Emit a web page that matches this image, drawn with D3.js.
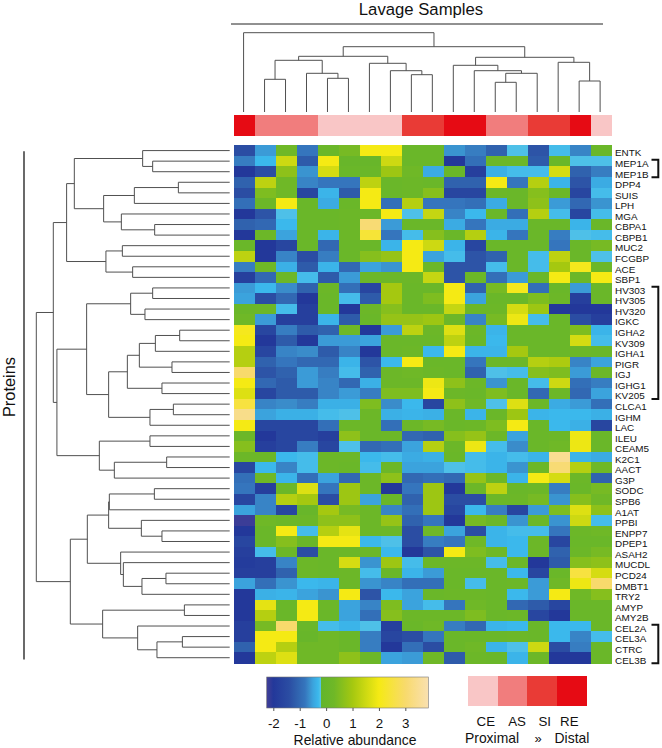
<!DOCTYPE html>
<html><head><meta charset="utf-8">
<script src="https://cdn.jsdelivr.net/npm/d3@7/dist/d3.min.js"></script>
<style>html,body{margin:0;padding:0;background:#fff}svg{display:block}text{font-family:"Liberation Sans",Arial,sans-serif;fill:#111}</style>
</head><body><svg id="c" width="662" height="748"></svg>
<script>
const proteins = ["ENTK","MEP1A","MEP1B","DPP4","SUIS","LPH","MGA","CBPA1","CBPB1","MUC2","FCGBP","ACE","SBP1","HV303","HV305","HV320","IGKC","IGHA2","KV309","IGHA1","PIGR","IGJ","IGHG1","KV205","CLCA1","IGHM","LAC","ILEU","CEAM5","K2C1","AACT","G3P","SODC","SPB6","A1AT","PPBI","ENPP7","DPEP1","ASAH2","MUCDL","PCD24","DMBT1","TRY2","AMYP","AMY2B","CEL2A","CEL3A","CTRC","CEL3B"];
const sampleSites = ["RE","AS","AS","AS","CE","CE","CE","CE","SI","SI","RE","RE","AS","AS","SI","SI","RE","CE"];
const siteOrder = ["CE","AS","SI","RE"];
const siteColors = ["#f9c6c6","#f17d7d","#e93b36","#e60b14"];
const abundance = [
[-1.8,-0.7,0.3,-1.2,0.1,0.4,2,2,0.1,0.1,-0.8,-1.1,-1.5,-0.25,-1.7,-0.3,-1.0,0.1],
[-1.1,-0.35,1.5,-1.6,2,0.05,0.05,1.5,0.1,0.1,-2.1,-1.3,0.2,0.2,-1.6,0.1,-0.25,-0.25],
[-2.1,-1.8,0.7,-0.8,1.6,0.1,0.1,0.9,0.3,-0.5,0.1,-2.0,-0.45,-0.3,-0.3,1.6,-1.5,-1.1],
[-1.5,1.3,0.3,-1.0,-1.2,-1.2,1.3,0.1,0.2,0.1,-1.5,-1.5,2,-1.2,1.2,-0.4,-1.7,-0.5],
[-1.8,0.5,0.3,-1.9,-0.4,-1.6,2,0.1,0.2,0.6,-1.9,-1.9,0.2,0.1,0.6,0.2,-1.9,-0.3],
[-1.3,0.2,2,0.1,-0.5,0.1,2,-1.3,1.2,-1.2,-1.2,-1.3,-0.5,0.1,0.7,-0.7,-1.4,-0.8],
[-2.1,-1.7,-0.25,0.1,0.1,0.2,0.2,2,-0.25,1.4,-1.0,-0.35,0.1,-1.3,1.2,-0.3,-1.9,-0.3],
[-1.5,-1.4,-0.35,0.1,0.1,0.2,3.1,-0.7,0.1,0.1,-0.5,-1.2,-0.5,-0.5,0.1,0.1,-0.4,0.1],
[-2.1,0.2,-0.6,0.1,-0.4,0.2,2.4,-1.2,-0.3,0.6,0.1,1.2,-0.4,-1.2,0.1,-1.1,-0.25,-0.3],
[0.1,-2.1,-1.9,0.1,-1.4,0.1,0.1,-0.4,2,1.5,-0.4,-1.9,0.1,0.1,0.1,-1.2,0.1,0.4],
[1.3,-2.1,-1.0,-1.8,-1.1,0.1,0.6,0.8,2,-0.6,-0.3,-1.7,-1.5,0.1,-0.3,1.3,0.1,-0.25],
[-1.1,0.3,-0.45,-1.6,-0.4,-1.4,-0.6,-0.8,2,0.2,-1.7,-1.7,-0.3,0.1,-0.3,1.0,2.1,0.2],
[-2.0,-1.4,0.2,-0.3,-1.6,-0.7,0.2,0.2,0.2,1.4,-1.7,0.2,-1.3,-0.7,0.1,2,0.2,2],
[-0.7,-0.35,-0.9,-1.5,0.2,-1.3,-1.9,1.0,0.1,0.1,2,-1.5,0.4,2.1,-1.3,0.1,-0.7,0.1],
[-0.6,-1.8,-1.4,-2.1,0.1,-0.3,-1.6,1.0,0.1,0.5,2,-0.6,0.1,0.1,0.5,0.2,-2.0,0.1],
[0.1,0.2,-0.3,-2.0,0.1,-2.1,0.2,0.6,0.1,0.1,1.4,0.2,0.2,1.6,0.9,-2.1,-2.1,-2.1],
[0.3,-0.7,-2.0,-2.0,-0.4,-1.6,0.1,0.8,0.8,0.9,0.2,-1.0,0.4,1.9,-0.3,0.1,-1.8,-2.0],
[2.1,-1.9,-1.1,-1.6,-1.5,0.3,-2.1,-0.7,1.3,0.2,1.7,0.2,-0.4,0.1,0.1,0.1,0.5,-0.4],
[2,-2.1,-1.6,-2.1,-0.7,-0.7,-0.6,0.1,0.1,0.1,1.3,0.1,-0.35,0.1,0.1,0.1,1.6,-0.3],
[1.2,-1.9,-1.0,-0.9,-1.6,-1.0,-2.1,0.1,0.2,-0.35,2,-0.4,-0.4,1.0,0.1,0.1,0.2,0.1],
[1.2,-1.5,-1.2,-1.4,-1.4,-0.4,-1.7,-0.35,2,0.1,0.1,-1.2,0.2,0.2,1.2,1.1,-1.0,-0.6],
[3,-1.7,-1.5,-0.7,-1.1,-0.3,-1.5,0.2,0.3,0.2,0.1,-1.5,-0.25,-0.3,0.6,0.5,-0.7,0.2],
[2,-1.4,-1.6,-0.7,-1.0,-1.4,-0.45,0.2,0.2,1.9,0.7,0.2,-0.8,0.1,-0.3,1.5,-1.3,-1.1],
[1.7,-1.9,-1.6,-1.6,-1.0,-0.7,-1.1,0.5,0.5,2,0.2,0.1,0.5,0.1,-1.4,0.2,-1.4,-0.6],
[2.5,-1.0,-0.9,-1.1,-0.45,-0.45,0.5,-0.9,-0.35,-1.9,0.7,0.3,-0.25,1.7,0.2,-0.5,-0.7,-1.3],
[3.4,-0.6,-0.45,-0.45,-0.3,-0.25,0.2,-0.45,-0.4,-0.45,0.1,-0.4,0.1,0.9,-0.4,-0.35,-0.35,-0.45],
[2,-1.9,-1.9,-1.9,-1.3,0.2,0.1,-1.3,0.2,0.4,0.1,0.2,0.5,2,0.1,-0.35,-0.45,-1.9],
[0.2,-2.1,-1.9,-1.9,-2.0,0.7,0.1,0.2,-1.4,-1.5,0.6,0.8,0.2,-0.6,0.1,0.2,1.9,0.1],
[0.6,-2.0,-1.9,-1.1,-1.9,-0.25,-1.4,-1.3,-0.6,1.2,0.2,1.9,-0.3,-0.9,0.1,0.3,1.9,0.1],
[0.2,0.2,-0.35,-0.3,0.2,0.2,-0.35,-0.3,-0.5,-0.45,0.1,-0.3,-0.4,-0.3,-0.4,3.5,-0.4,-0.5],
[-1.9,-0.35,-1.0,-0.3,0.2,0.1,-0.3,0.2,-0.6,-0.6,-0.25,-0.3,-0.4,-0.8,0.2,3.1,1.2,0.3],
[-1.3,0.3,-0.4,-1.3,-0.6,-1.4,0.2,0.7,-1.4,-1.3,-1.4,0.8,0.2,-0.4,2,1.6,0.2,-1.5],
[-1.2,-2.0,0.2,1.7,-1.2,0.9,0.2,-2.1,-1.2,0.9,-2.1,0.2,1.3,0.1,0.2,-1.1,0.1,0.4],
[-1.9,-1.0,1.2,1.0,-1.8,0.9,-0.6,0.1,-1.5,0.9,-1.8,-1.8,0.2,0.2,0.4,-0.8,0.6,0.3],
[-0.6,-1.0,-1.9,0.05,1.0,0.4,0.2,-1.0,-1.3,0.9,-1.9,-0.35,-1.1,-1.9,-0.7,0.5,1.7,0.7],
[-2.25,0.3,0.2,0.2,0.7,0.7,0.2,0.8,-1.5,-1.2,-2.1,0.4,0.2,-0.8,0.2,-0.8,1.5,-0.3],
[-2.1,0.1,2,-0.3,1.2,1.8,0.2,0.2,-1.8,0.3,-0.6,-1.8,-0.4,-0.3,-0.3,-1.2,0.2,0.3],
[-1.9,0.1,0.6,0.1,2,2,-0.35,-0.25,-1.8,-1.1,-1.2,0.3,-0.4,-0.35,0.2,-1.9,0.1,0.1],
[-2.0,-0.3,0.2,-1.8,0.1,0.2,0.2,-0.35,-2.1,-1.7,2,0.5,0.3,-0.35,0.2,-1.5,0.2,0.4],
[-2.05,-2.0,-1.0,0.2,0.1,1.6,-0.8,0.9,-0.3,0.2,0.2,0.2,-0.3,0.2,-2.1,-1.6,0.6,0.7],
[-2.0,-2.0,-1.5,0.2,0.1,0.2,-0.3,0.1,-0.4,-0.7,0.1,0.1,0.1,-0.35,-1.9,0.1,2.5,1.6],
[-0.6,-1.3,-0.8,-0.35,-0.4,0.2,-0.8,-1.0,-1.3,-1.3,0.1,-0.3,0.1,0.2,-0.7,0.3,1.9,3],
[-2.1,-0.45,-0.4,-0.6,-0.8,2,-1.7,-0.35,-0.6,0.1,0.2,0.2,0.1,-0.35,-0.7,2,0.3,0.6],
[-2.1,1.8,0.1,2,0.2,-0.6,-1.0,0.5,-0.6,-0.3,-1.2,0.3,0.1,-1.4,-1.6,-1.9,0.1,0.1],
[-2.1,1.2,0.1,2,0.1,-0.6,-1.3,0.6,0.2,0.2,0.2,0.5,0.1,0.2,-1.9,-2.1,0.1,0.1],
[-2.0,0.4,3,0.1,-0.3,-0.4,-0.25,-2.0,0.1,0.3,-1.1,-1.4,-0.4,-0.35,0.1,-0.35,-0.35,0.1],
[-2.0,2,2,0.05,0.3,0.1,-1.1,-1.9,-1.8,-1.2,0.1,0.1,0.1,0.2,0.1,-0.35,-1.0,-0.3],
[-1.5,2,1.2,0.3,0.3,0.1,-1.1,-2.1,-1.3,-1.8,0.1,0.3,-0.4,-0.25,1.5,-1.8,-1.1,0.1],
[-2.1,1.3,1.7,0.3,0.3,0.7,0.2,-0.6,-0.7,0.3,-1.6,0.2,0.1,-0.4,0.2,-2.1,-2.1,0.1]
];
// merge trees: [merge distance, child, child]; a number is a row or column index
const rowTree = [193.3,
 [176.3,
  [163,
   [155.3,[87,0,[77,1,2]],[126,[95.3,[51.3,3,4],5],[108.3,6,[75,7,8]]]],
   [123.7,[107.3,9,10],[97,11,12]]],
  [172.7,
   [143,
    [99,[77,13,14],[84.7,15,16]],
    [121,[102.3,[90.3,[74.3,[50,17,18],19],[57.7,20,21]],[67.7,22,23]],[79.7,[56.3,24,25],26]]],
   [130.3,[79.7,27,28],[115.3,[63,29,30],31]]]],
 [159.3,
  [142.3,
   [121,[120.3,[75.3,32,33],34],[88.3,35,[67.7,36,37]]],
   [109,38,[106.3,39,[87.7,[63.7,40,41],42]]]],
  [127,[45.3,43,44],[92,45,[72.7,[47.3,46,47],48]]]]];
const colTree = [79.3,0,
 [65.3,
  [55.7,
   [51.7,[32.7,1,2],[38.7,3,[33.7,4,5]]],
   [48.7,6,[41.3,7,[37.3,8,9]]]],
  [54.7,
   [46.7,10,[41.3,11,[38.7,[29.7,12,13],14]]],
   [49.7,15,[31,16,17]]]]];
const colorStops = [-2.3,-2.1,-1.8,-1.5,-1.2,-0.9,-0.6,-0.35,-0.2,-0.19,0.3,1,2,3,3.9];
const colorValues = ["#433f96","#23389a","#2b4da3","#3062ae","#3575bd","#3a8cca","#3ba3dd","#3bb8ec","#58c4e6","#62b52c","#6fb827","#a5c810","#f5ea14","#f8da6c","#f9e0b0"];
const legendStops = [-2.3,-2.0,-1.4,-1.1,-0.8,-0.65,-0.5,-0.3,-0.2,-0.19,0.3,1,2,3,3.9];
const legendTicks = [-2,-1,0,1,2,3];
const bracketGroups = [["MEP1A","MEP1B"],["HV303","KV205"],["CEL2A","CEL3B"]];

const svg = d3.select("#c");
const x = d3.scaleBand().domain(d3.range(sampleSites.length)).range([234.3,611.8]);
const y = d3.scaleBand().domain(proteins).range([145.3,663]);
const color = d3.scaleLinear().domain(colorStops).range(colorValues).clamp(true);
const siteColor = d3.scaleOrdinal().domain(siteOrder).range(siteColors);

// heat map
svg.append("g").attr("shape-rendering","crispEdges").selectAll("g").data(abundance).join("g")
 .attr("transform",(d,i)=>`translate(0,${y(proteins[i])})`)
 .selectAll("rect").data(d=>d).join("rect")
 .attr("x",(d,i)=>x(i)).attr("width",x.bandwidth()+0.5).attr("height",y.bandwidth()+0.5)
 .attr("fill",d=>color(d));

// sample bar
svg.append("g").attr("shape-rendering","crispEdges").selectAll("rect").data(sampleSites).join("rect")
 .attr("x",(d,i)=>x(i)).attr("y",114.7).attr("width",x.bandwidth()+0.5).attr("height",21.3).attr("fill",d=>siteColor(d));

// row labels
svg.append("g").selectAll("text").data(proteins).join("text")
 .attr("x",615).attr("y",d=>y(d)+y.bandwidth()/2+5.8).attr("font-size",9.9).text(d=>d);

// dendrograms
function drawTree(tree,leafPos,distScale,horizontal){
 const root = d3.hierarchy(tree,d=>Array.isArray(d)?d.slice(1):null);
 const p = d3.path();
 root.eachAfter(n=>{
  if(!n.children){n.pos=leafPos(n.data);n.dist=0;return;}
  n.dist=n.data[0];
  n.pos=d3.mean(n.children,c=>c.pos);
  const [a,b]=n.children, d=distScale(n.dist);
  if(horizontal){
   p.moveTo(distScale(a.dist),a.pos);p.lineTo(d,a.pos);p.lineTo(d,b.pos);p.lineTo(distScale(b.dist),b.pos);
  }else{
   p.moveTo(a.pos,distScale(a.dist));p.lineTo(a.pos,d);p.lineTo(b.pos,d);p.lineTo(b.pos,distScale(b.dist));
  }
 });
 svg.append("path").attr("d",p.toString()).attr("fill","none").attr("stroke","#505050").attr("stroke-width",1);
}
drawTree(rowTree,i=>y(proteins[i])+y.bandwidth()/2,d3.scaleLinear().domain([0,193.3]).range([229.7,36.3]),true);
drawTree(colTree,i=>x(i)+x.bandwidth()/2-1.2,d3.scaleLinear().domain([0,79.3]).range([112,32.7]),false);

// titles and rules
svg.append("text").attr("x",421).attr("y",15).attr("text-anchor","middle").attr("font-size",16.7).text("Lavage Samples");
svg.append("line").attr("x1",231).attr("x2",603).attr("y1",24).attr("y2",24).attr("stroke","#222").attr("stroke-width",1);
svg.append("text").attr("transform","translate(15,387) rotate(-90)").attr("text-anchor","middle").attr("font-size",16.4).text("Proteins");
svg.append("line").attr("x1",24).attr("x2",24).attr("y1",151.3).attr("y2",659.5).attr("stroke","#444").attr("stroke-width",1.6);

// brackets
svg.append("g").selectAll("path").data(bracketGroups).join("path")
 .attr("d",g=>{
   const t=y(g[0])+y.bandwidth()/2-1.3, b=y(g[1])+y.bandwidth()/2+5.5;
   return d3.line()([[651.5,t],[658.3,t],[658.3,b],[651.5,b]]);
 }).attr("fill","none").attr("stroke","#111").attr("stroke-width",2);

// colour legend
const lx = d3.scaleLinear().domain([-2.25,3.87]).range([266.7,428.3]);
const defs = svg.append("defs");
const grad = defs.append("linearGradient").attr("id","cb");
legendStops.forEach((s,i)=>{
 grad.append("stop").attr("offset",Math.max(0,Math.min(1,(lx(s)-266.7)/(428.3-266.7)))).attr("stop-color",colorValues[i]);
});
svg.append("rect").attr("x",266.7).attr("y",677).attr("width",161.6).attr("height",31).attr("fill","url(#cb)").attr("stroke","#777").attr("stroke-width",0.6);
const axis = d3.axisBottom(lx).tickValues(legendTicks).tickSize(3).tickPadding(8).tickFormat(d=>String(d));
const ax = svg.append("g").attr("transform","translate(0,708)").call(axis);
ax.select(".domain").remove();
ax.selectAll("line").attr("stroke","#555");
ax.selectAll("text").attr("font-size",13.3).attr("font-family","Liberation Sans").attr("fill","#111");
svg.append("text").attr("x",355).attr("y",744.5).attr("text-anchor","middle").attr("font-size",13.9).text("Relative abundance");

// site legend
const sx = d3.scaleBand().domain(siteOrder).range([468,586.7]);
svg.append("g").attr("shape-rendering","crispEdges").selectAll("rect").data(siteOrder).join("rect")
 .attr("x",d=>sx(d)).attr("y",676).attr("width",sx.bandwidth()+0.5).attr("height",29.7).attr("fill",d=>siteColor(d));
const siteLabelOffset = {CE:3,AS:4.5,SI:2.5,RE:-2.5};
svg.append("g").selectAll("text").data(siteOrder).join("text")
 .attr("x",d=>sx(d)+sx.bandwidth()/2+siteLabelOffset[d]).attr("y",725.5).attr("text-anchor","middle").attr("font-size",13.3).text(d=>d);
svg.append("text").attr("x",465).attr("y",742.7).attr("font-size",13.9).text("Proximal");
svg.append("text").attr("x",538).attr("y",742.7).attr("text-anchor","middle").attr("font-size",13).text("»");
svg.append("text").attr("x",589.3).attr("y",742.7).attr("text-anchor","end").attr("font-size",13.9).text("Distal");
</script></body></html>
